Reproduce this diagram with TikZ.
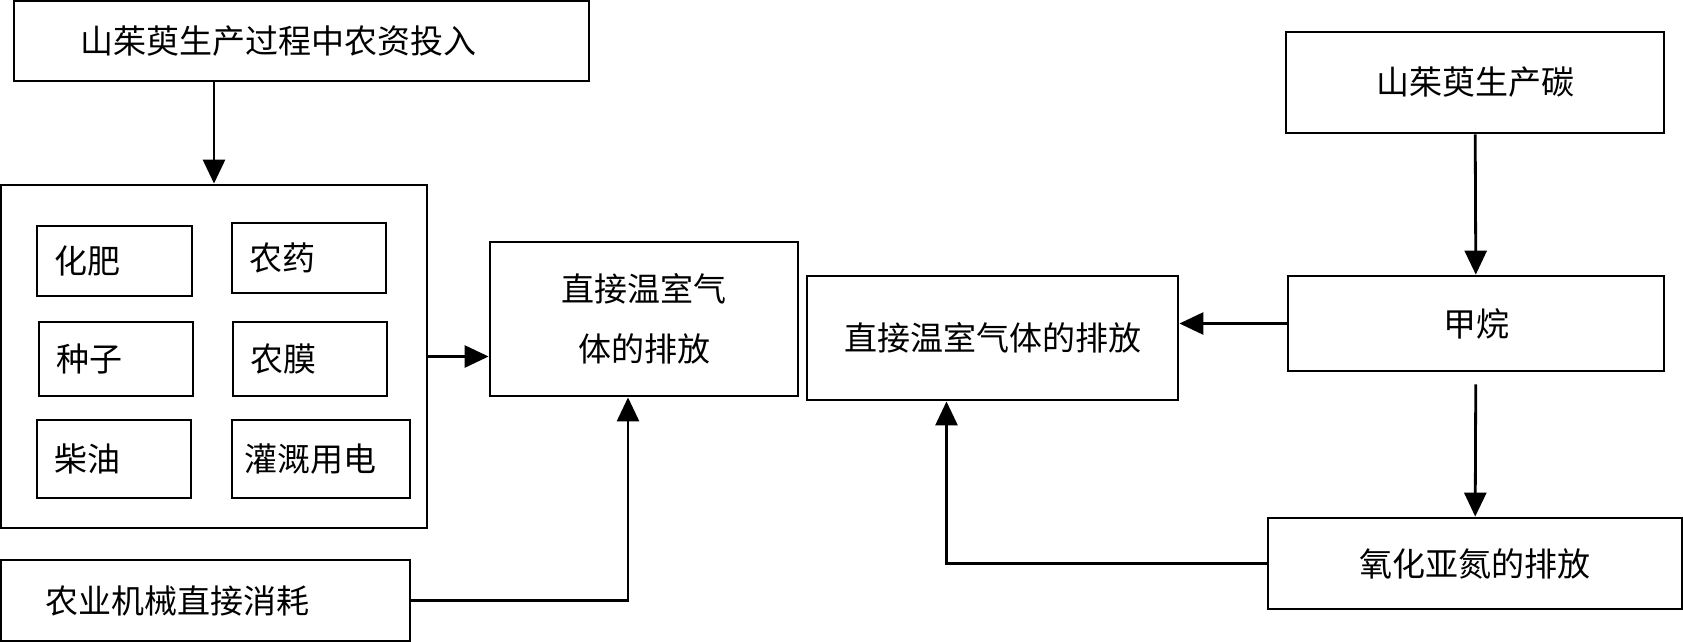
\documentclass[tikz,border=0pt]{standalone}
\usepackage{fontspec}
\newfontfamily\zh{Noto Sans CJK SC}
\usetikzlibrary{arrows.meta}

\begin{document}
\begin{tikzpicture}[
    x=1pt, y=-1pt,
    >={Triangle[length=24pt, width=22pt]},
    line width=2.8pt,
    box/.style={draw, inner sep=0pt, font=\zh\fontsize{33}{60}\selectfont},
    itembox/.style={box, inner xsep=17pt, align=left}
    ]

    \useasboundingbox (0,0) rectangle (1683,642);

    % left part
    \node[box, inner xsep=66pt, text width=443pt, align=left, minimum height=80pt]
      (inputs) at (301.5,41) {山茱萸生产过程中农资投入};
    \node[box, minimum width=426pt, minimum height=343pt] (group) at (214,356.5) {};

    \node[itembox, text width=121pt, minimum height=70pt] (fert)   at (114.5,261) {化肥};
    \node[itembox, text width=120pt, minimum height=70pt] (pest)   at (309,258)   {农药};
    \node[itembox, text width=120pt, minimum height=74pt] (seed)   at (116,359)   {种子};
    \node[itembox, text width=120pt, minimum height=74pt] (film)   at (310,359)   {农膜};
    \node[itembox, text width=120pt, minimum height=78pt] (diesel) at (114,459)   {柴油};
    \node[itembox, inner xsep=12pt, text width=154pt, minimum height=78pt]
      (power) at (321,459) {灌溉用电};

    \node[box, minimum width=308pt, minimum height=154pt, align=center]
      (ghgL) at (644,319) {直接温室气\\体的排放};
    \node[box, inner xsep=44pt, text width=321pt, align=left, minimum height=81pt]
      (mach) at (205.5,600.5) {农业机械直接消耗};

    % right part
    \node[box, minimum width=371pt, minimum height=124pt] (ghgR)    at (992.5,338) {直接温室气体的排放};
    \node[box, minimum width=378pt, minimum height=101pt] (carbon)  at (1475,82.5) {山茱萸生产碳};
    \node[box, minimum width=376pt, minimum height=95pt]  (methane) at (1476,323.5) {甲烷};
    \node[box, minimum width=414pt, minimum height=91pt]  (nitrous) at (1475,563.5) {氧化亚氮的排放};

    \draw[->] (inputs.south -| group.north) -- (group.north);
    \draw[->] (group.east) -- (group.east -| ghgL.west);
    \draw[->] (mach.east) -| ([xshift=-16pt]ghgL.south);

    \draw[->] (carbon) -- (methane);
    \draw[->, shorten <=12pt] (methane) -- (nitrous);
    \draw[->] (methane.west) -- (methane.west -| ghgR.east);
    \draw[->] (nitrous.west) -| ([xshift=-46pt]ghgR.south);

  \end{tikzpicture}
\end{document}
